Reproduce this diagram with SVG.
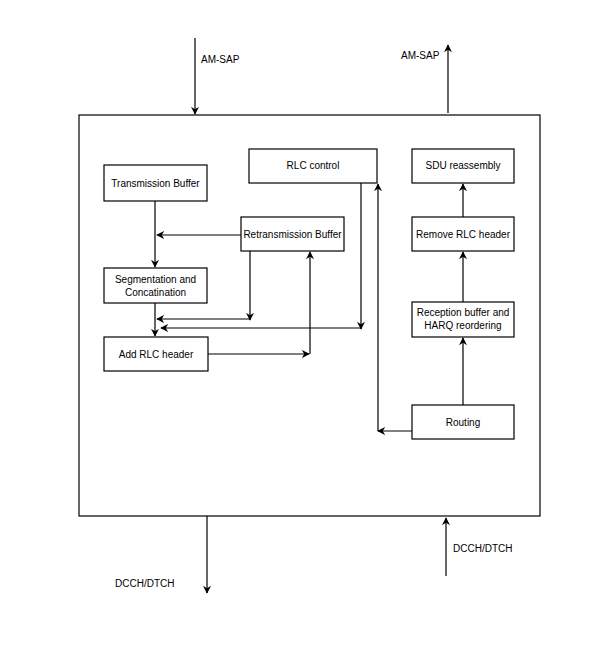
<svg xmlns="http://www.w3.org/2000/svg" width="607" height="660" viewBox="0 0 607 660">
<style>
rect{fill:#fff;stroke:#000;stroke-width:1.2}
text{font-family:"Liberation Sans",Arial,sans-serif;font-size:10px;fill:#000;text-anchor:middle}
.c path{fill:none;stroke:#000;stroke-width:1.2}
</style>
<defs><marker id="a" viewBox="0 0 10 10" refX="9" refY="5" markerWidth="8" markerHeight="8" orient="auto" markerUnits="userSpaceOnUse"><path d="M0,0L10,5L0,10L3,5Z" fill="#000"/></marker></defs>
<rect width="607" height="660" style="stroke:none"/>
<g id="outer"><rect x="79" y="115" width="461" height="401"/></g>
<g id="tb"><rect x="104" y="165" width="103" height="36"/><text x="155.5" y="187">Transmission Buffer</text></g>
<g id="rb"><rect x="241" y="217" width="103" height="34"/><text x="292.5" y="238">Retransmission Buffer</text></g>
<g id="seg"><rect x="104" y="268" width="103" height="35"/><text x="155.5" y="283">Segmentation and</text><text x="155.5" y="296">Concatination</text></g>
<g id="add"><rect x="104" y="337" width="104" height="34"/><text x="156" y="358">Add RLC header</text></g>
<g id="ctl"><rect x="249" y="149" width="128" height="34"/><text x="313" y="169">RLC control</text></g>
<g id="sdu"><rect x="412" y="149" width="102" height="34"/><text x="463" y="169">SDU reassembly</text></g>
<g id="rem"><rect x="412" y="217" width="102" height="34"/><text x="463" y="238">Remove RLC header</text></g>
<g id="rec"><rect x="412" y="302" width="102" height="35"/><text x="463" y="316">Reception buffer and</text><text x="463" y="329">HARQ reordering</text></g>
<g id="rt"><rect x="412" y="405" width="102" height="34"/><text x="463" y="426">Routing</text></g>
<g id="labels"><text x="201" y="63" style="text-anchor:start">AM-SAP</text><text x="401" y="59" style="text-anchor:start">AM-SAP</text><text x="115" y="587" style="text-anchor:start">DCCH/DTCH</text><text x="453" y="552" style="text-anchor:start">DCCH/DTCH</text></g>
<g class="c" id="connectors">
<path d="M195,38V114" marker-end="url(#a)"/>
<path d="M448,113V45" marker-end="url(#a)"/>
<path d="M207,516V593" marker-end="url(#a)"/>
<path d="M446,576V518" marker-end="url(#a)"/>
<path d="M155,201V267" marker-end="url(#a)"/>
<path d="M241,235H157" marker-end="url(#a)"/>
<path d="M250,251V320" marker-end="url(#a)"/>
<path d="M250,319H157" marker-end="url(#a)"/>
<path d="M361,183V329" marker-end="url(#a)"/>
<path d="M361,328H161" marker-end="url(#a)"/>
<path d="M155,303V336" marker-end="url(#a)"/>
<path d="M208,354H309" marker-end="url(#a)"/>
<path d="M310,354V252" marker-end="url(#a)"/>
<path d="M412,431H378" marker-end="url(#a)"/>
<path d="M378,431V184" marker-end="url(#a)"/>
<path d="M463,405V338" marker-end="url(#a)"/>
<path d="M463,302V252" marker-end="url(#a)"/>
<path d="M463,217V184" marker-end="url(#a)"/>
</g>
</svg>
